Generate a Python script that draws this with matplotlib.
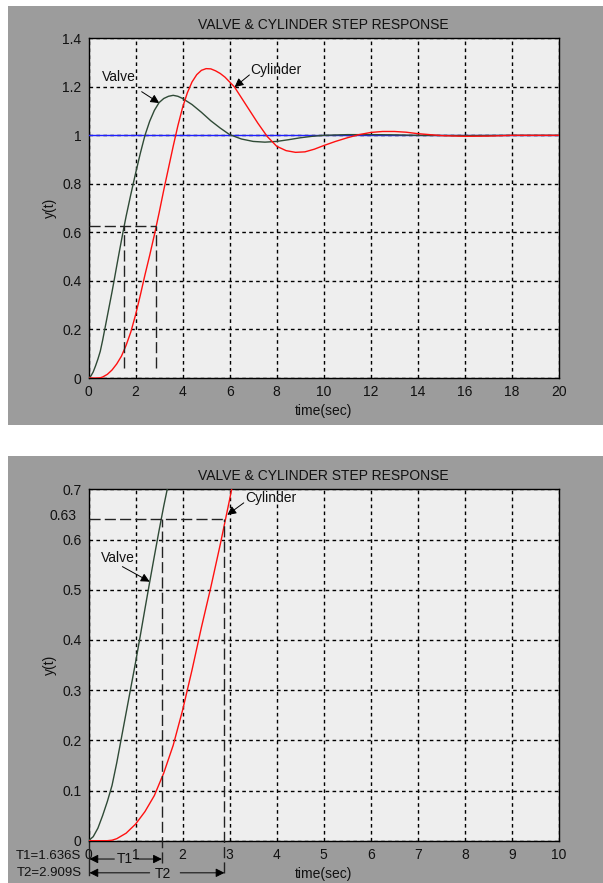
import matplotlib
matplotlib.use("Agg")
import matplotlib.pyplot as plt
from matplotlib.patches import Rectangle

plt.rcParams['font.family'] = ['Liberation Sans', 'DejaVu Sans']

# ---------------- data ----------------
title = "VALVE & CYLINDER STEP RESPONSE"

valve_t = [0, 0.1, 0.2, 0.3, 0.4, 0.5, 0.6, 0.7, 0.8, 0.9, 1.0, 1.1, 1.2, 1.3, 1.4,
           1.5, 1.6, 1.7, 1.8, 1.9, 2.0, 2.2, 2.4, 2.6, 2.8, 3.0, 3.2, 3.4, 3.6, 3.8,
           4.0, 4.4, 4.8, 5.2, 5.6, 6.0, 6.5, 7.0, 7.5, 8.0, 8.5, 9.0, 9.5, 10, 11,
           12, 13, 14, 16, 18, 20]
valve_y = [0, 0.008, 0.025, 0.05, 0.078, 0.11, 0.155, 0.205, 0.255, 0.305, 0.355,
           0.408, 0.462, 0.515, 0.567, 0.618, 0.667, 0.712, 0.757, 0.8, 0.843, 0.925,
           1.0, 1.058, 1.103, 1.135, 1.152, 1.161, 1.165, 1.161, 1.152, 1.127,
           1.095, 1.06, 1.03, 1.003, 0.985, 0.975, 0.972, 0.975, 0.982, 0.99,
           0.996, 1.0, 1.003, 1.003, 1.002, 1.0, 0.999, 1.0, 1.0]

cyl_t = [0, 0.4, 0.5, 0.6, 0.8, 1.0, 1.2, 1.4, 1.6, 1.8, 2.0, 2.2, 2.4, 2.6, 2.8,
         3.0, 3.2, 3.4, 3.6, 3.8, 4.0, 4.2, 4.4, 4.6, 4.8, 5.0, 5.2, 5.4, 5.6, 5.8,
         6.0, 6.2, 6.4, 6.8, 7.2, 7.6, 8.0, 8.4, 8.8, 9.2, 9.6, 10, 10.5, 11, 11.5,
         12, 12.5, 13, 13.5, 14, 15, 16, 17, 18, 20]
cyl_y = [0, 0, 0.001, 0.004, 0.015, 0.033, 0.058, 0.09, 0.135, 0.19, 0.26, 0.34,
         0.425, 0.505, 0.59, 0.68, 0.775, 0.865, 0.955, 1.04, 1.115, 1.175, 1.22,
         1.25, 1.268, 1.275, 1.274, 1.266, 1.255, 1.24, 1.22, 1.2, 1.17, 1.11,
         1.05, 0.995, 0.955, 0.937, 0.93, 0.932, 0.943, 0.958, 0.975, 0.99,
         1.003, 1.012, 1.016, 1.016, 1.013, 1.007, 0.999, 0.996, 0.997, 1.0, 1.0]

step_t = [0, 20]
step_y = [1, 1]

top_marks_t = [1.5, 2.86]
top_level = 0.625
bot_marks_t = [1.56, 2.89]
bot_level = 0.64

top_xticks = [0, 2, 4, 6, 8, 10, 12, 14, 16, 18, 20]
top_yticks = [0, 0.2, 0.4, 0.6, 0.8, 1.0, 1.2, 1.4]
top_yticklabels = ["0", "0.2", "0.4", "0.6", "0.8", "1", "1.2", "1.4"]
bot_xticks = [0, 1, 2, 3, 4, 5, 6, 7, 8, 9, 10]
bot_yticks = [0, 0.1, 0.2, 0.3, 0.4, 0.5, 0.6, 0.7]
bot_yticklabels = ["0", "0.1", "0.2", "0.3", "0.4", "0.5", "0.6", "0.7"]

T1_text = "T1=1.636S"
T2_text = "T2=2.909S"

# ---------------- style ----------------
W, H = 603, 883
PANEL = '#9c9c9c'
AXBG = '#eeeeee'
GREEN = '#2f4a36'
RED = '#ff1010'
BLUE = '#2020ff'
FS = 10

fig = plt.figure(figsize=(W / 100, H / 100), dpi=100)
fig.patch.set_facecolor('white')

# grey panels (figure background of each MATLAB figure)
fig.add_artist(Rectangle((8 / W, 1 - 424.5 / H), 1 - 8 / W, 418.5 / H,
                         transform=fig.transFigure, facecolor=PANEL,
                         edgecolor='none', zorder=-10))
fig.add_artist(Rectangle((8 / W, 0), 1 - 8 / W, (H - 455.7) / H,
                         transform=fig.transFigure, facecolor=PANEL,
                         edgecolor='none', zorder=-10))


def px_axes(left, top, right, bottom):
    return fig.add_axes([left / W, 1 - bottom / H, (right - left) / W, (bottom - top) / H])


def style(ax, xticks, yticks, ylabels, xlim, ylim):
    ax.set_zorder(1)
    ax.set_facecolor(AXBG)
    ax.set_xlim(*xlim)
    ax.set_ylim(*ylim)
    ax.set_xticks(xticks)
    ax.set_xticklabels([str(v) for v in xticks])
    ax.set_yticks(yticks)
    ax.set_yticklabels(ylabels)
    ax.tick_params(length=0, labelsize=FS, colors='#111111', pad=5)
    ax.grid(True, color='black', linestyle=(0, (2.6, 2.4)), linewidth=1.0)
    ax.set_axisbelow(True)
    for s in ax.spines.values():
        s.set_color('#000000')
        s.set_linewidth(1.0)
    ax.set_title(title, fontsize=FS, color='#111111', pad=7)
    ax.set_xlabel("time(sec)", fontsize=FS, color='#111111', labelpad=4)
    ax.set_ylabel("y(t)", fontsize=FS, color='#111111', labelpad=4)


arrow_kw = dict(arrowstyle='-|>', color='black', lw=0.7, mutation_scale=13,
                shrinkA=0, shrinkB=0)
dash = (0, (8, 3))

# ---------------- top chart ----------------
ax1 = px_axes(88.5, 38.3, 559, 378)
style(ax1, top_xticks, top_yticks, top_yticklabels, (0, 20), (0, 1.4))
ax1.plot(step_t, step_y, color=BLUE, lw=1.0, zorder=3)
ax1.plot(valve_t, valve_y, color=GREEN, lw=1.0, zorder=4)
ax1.plot(cyl_t, cyl_y, color=RED, lw=1.0, zorder=5)
ax1.plot([0, top_marks_t[1]], [top_level, top_level], color='#222222', lw=1.0,
         linestyle=dash, zorder=6)
for tm in top_marks_t:
    ax1.plot([tm, tm], [0.04, top_level], color='#222222', lw=1.0,
             linestyle=dash, zorder=6)
ax1.text(1.3, 1.24, "Valve", fontsize=FS, ha='center', va='center', color='#111111')
ax1.annotate('', xy=(3.01, 1.133), xytext=(2.26, 1.18), arrowprops=arrow_kw)
ax1.text(7.95, 1.27, "Cylinder", fontsize=FS, ha='center', va='center', color='#111111')
ax1.annotate('', xy=(6.21, 1.199), xytext=(6.84, 1.249), arrowprops=arrow_kw)

# ---------------- bottom chart ----------------
ax2 = px_axes(88.5, 489.3, 559, 840.7)
style(ax2, bot_xticks, bot_yticks, bot_yticklabels, (0, 10), (0, 0.7))
ax2.plot(valve_t, valve_y, color=GREEN, lw=1.0, zorder=4)
ax2.plot(cyl_t, cyl_y, color=RED, lw=1.0, zorder=5)
ax2.plot([0, bot_marks_t[1]], [bot_level, bot_level], color='#222222', lw=1.0,
         linestyle=dash, zorder=6)
ax2.plot([bot_marks_t[0]] * 2, [-0.044, bot_level], color='#222222', lw=1.0,
         linestyle=dash, zorder=6, clip_on=False)
ax2.plot([bot_marks_t[1]] * 2, [-0.064, bot_level], color='#222222', lw=1.0,
         linestyle=dash, zorder=6, clip_on=False)
ax2.plot([0, 0], [-0.068, 0], color='#222222', lw=1.0, clip_on=False)
ax2.text(-0.26, 0.646, "0.63", fontsize=FS, ha='right', va='center', color='#111111')
ax2.text(0.63, 0.563, "Valve", fontsize=FS, ha='center', va='center', color='#111111')
ax2.annotate('', xy=(1.3, 0.516), xytext=(0.72, 0.546), arrowprops=arrow_kw)
ax2.text(3.87, 0.683, "Cylinder", fontsize=FS, ha='center', va='center', color='#111111')
ax2.annotate('', xy=(2.95, 0.649), xytext=(3.3, 0.673), arrowprops=arrow_kw)

# T1 / T2 dimension arrows under the axis
ax2.annotate('', xy=(0.02, -0.0365), xytext=(0.55, -0.0365), arrowprops=arrow_kw,
             annotation_clip=False)
ax2.annotate('', xy=(bot_marks_t[0], -0.0365), xytext=(1.0, -0.0365),
             arrowprops=arrow_kw, annotation_clip=False)
ax2.text(0.78, -0.0365, "T1", fontsize=FS, ha='center', va='center', color='#111111',
         clip_on=False)
ax2.annotate('', xy=(0.02, -0.064), xytext=(1.3, -0.064), arrowprops=arrow_kw,
             annotation_clip=False)
ax2.annotate('', xy=(bot_marks_t[1], -0.064), xytext=(1.95, -0.064),
             arrowprops=arrow_kw, annotation_clip=False)
ax2.text(1.58, -0.066, "T2", fontsize=FS, ha='center', va='center', color='#111111',
         clip_on=False)

fig.text(81.5 / W, 1 - 856 / H, T1_text, fontsize=9.5, ha='right', va='center', color='#111111')
fig.text(81.5 / W, 1 - 873.5 / H, T2_text, fontsize=9.5, ha='right', va='center', color='#111111')

fig.savefig("out.png", dpi=100, facecolor=fig.get_facecolor())
